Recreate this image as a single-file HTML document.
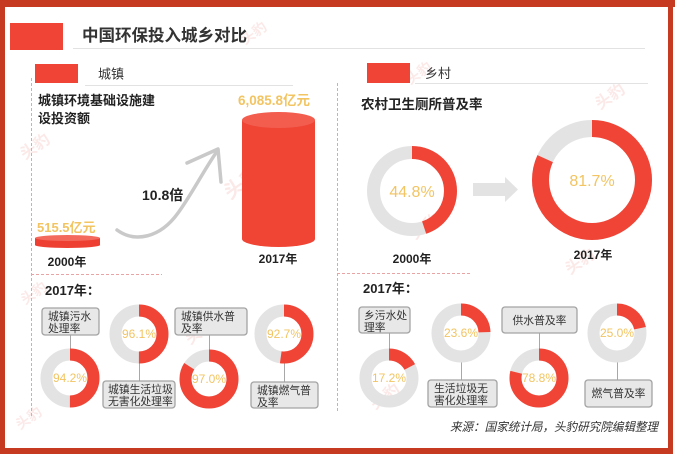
<!DOCTYPE html>
<html>
<head>
<meta charset="utf-8">
<style>
html,body{margin:0;padding:0;background:#fff;}
svg{display:block;}
text{font-family:"Liberation Sans","Noto Sans CJK SC",sans-serif;}
</style>
</head>
<body>
<svg width="675" height="456" viewBox="0 0 675 456" xmlns="http://www.w3.org/2000/svg">
  <rect x="0" y="0" width="675" height="456" fill="#ffffff"/>

  <!-- watermarks -->
  <g fill="#f4c9c6" opacity="0.4" font-weight="bold">
    <text x="230" y="200" font-size="20" transform="rotate(-35 230 200)">头豹</text>
    <text x="25" y="160" font-size="16" transform="rotate(-35 25 160)">头豹</text>
    <text x="245" y="45" font-size="14" transform="rotate(-35 245 45)">头豹</text>
    <text x="410" y="85" font-size="14" transform="rotate(-35 410 85)">头豹</text>
    <text x="600" y="110" font-size="16" transform="rotate(-35 600 110)">头豹</text>
    <text x="415" y="240" font-size="16" transform="rotate(-35 415 240)">头豹</text>
    <text x="570" y="275" font-size="16" transform="rotate(-35 570 275)">头豹</text>
    <text x="375" y="410" font-size="16" transform="rotate(-35 375 410)">头豹</text>
    <text x="25" y="305" font-size="14" transform="rotate(-35 25 305)">头豹</text>
    <text x="20" y="430" font-size="14" transform="rotate(-35 20 430)">头豹</text>
    <text x="190" y="345" font-size="16" transform="rotate(-35 190 345)">头豹</text>
  </g>

  <!-- border -->
  <rect x="0" y="0" width="675" height="7" fill="#c73a22"/>
  <rect x="0" y="0" width="5" height="454" fill="#c73a22"/>
  <rect x="668" y="0" width="5" height="454" fill="#c73a22"/>
  <rect x="0" y="448" width="673" height="6" fill="#c73a22"/>

  <!-- header -->
  <rect x="10" y="23" width="53" height="27" fill="#f04436"/>
  <text x="82" y="41" font-size="16.5" font-weight="bold" fill="#333">中国环保投入城乡对比</text>
  <line x1="73" y1="48.5" x2="645" y2="48.5" stroke="#e2e2e2" stroke-width="1"/>

  <!-- section headers -->
  <rect x="35" y="64" width="43" height="19" fill="#f04436"/>
  <text x="98" y="78.5" font-size="13" fill="#333">城镇</text>
  <line x1="85" y1="85.5" x2="293" y2="85.5" stroke="#e2e2e2" stroke-width="1"/>
  <rect x="367" y="63" width="43" height="20" fill="#f04436"/>
  <text x="425" y="78" font-size="13" fill="#333">乡村</text>
  <line x1="415" y1="83.5" x2="648" y2="83.5" stroke="#e2e2e2" stroke-width="1"/>

  <!-- dashed lines -->
  <g stroke="#e8a4a4" stroke-width="1" stroke-dasharray="3,2" fill="none">
    <line x1="31.5" y1="78" x2="31.5" y2="418"/>
    <line x1="337.5" y1="83" x2="337.5" y2="413"/>
    <line x1="31" y1="274.5" x2="162" y2="274.5"/>
    <line x1="337" y1="273.5" x2="470" y2="273.5"/>
  </g>

  <!-- Left top -->
  <text x="38" y="105" font-size="13" font-weight="bold" fill="#222">城镇环境基础设施建</text>
  <text x="38" y="123" font-size="13" font-weight="bold" fill="#222">设投资额</text>
  <text x="238" y="105" font-size="13.5" font-weight="bold" fill="#f2c462">6,085.8亿元</text>

  <!-- cylinder 2017 -->
  <rect x="242" y="120" width="73" height="119" fill="#f04535"/>
  <ellipse cx="278.5" cy="239" rx="36.5" ry="8" fill="#f04535"/>
  <ellipse cx="278.5" cy="120" rx="36.5" ry="8" fill="#f25d4e"/>
  <text x="278" y="263" font-size="12" font-weight="bold" fill="#222" text-anchor="middle">2017年</text>

  <!-- small disk 2000 -->
  <text x="37" y="232" font-size="13" font-weight="bold" fill="#f2c462">515.5亿元</text>
  <rect x="35" y="238" width="65" height="7" fill="#ee3f33"/>
  <ellipse cx="67.5" cy="245" rx="32.5" ry="3" fill="#ee3f33"/>
  <ellipse cx="67.5" cy="238" rx="32.5" ry="3" fill="#f36a5d"/>
  <text x="67" y="266" font-size="12" font-weight="bold" fill="#222" text-anchor="middle">2000年</text>

  <!-- arrow -->
  <path d="M117,230 C135,243 160,238 178,213 C192,194 205,168 218,150" fill="none" stroke="#c9c9c9" stroke-width="3.5" stroke-linecap="round"/>
  <path d="M187,163 L218,149 L221,182" fill="none" stroke="#c9c9c9" stroke-width="3.5" stroke-linecap="round" stroke-linejoin="round"/>
  <text x="142" y="200" font-size="14" font-weight="bold" fill="#222">10.8倍</text>

  <!-- Right top -->
  <text x="361" y="109" font-size="13.5" font-weight="bold" fill="#222">农村卫生厕所普及率</text>

  <!-- donut 2000 -->
  <circle cx="412" cy="191" r="38.5" fill="none" stroke="#e3e3e3" stroke-width="13"/>
  <circle cx="412" cy="191" r="38.5" fill="none" stroke="#f04436" stroke-width="13"
    stroke-dasharray="108.4 500" transform="rotate(-90 412 191)"/>
  <text x="412" y="197" font-size="16" fill="#f2c462" text-anchor="middle">44.8%</text>
  <text x="412" y="263" font-size="12" font-weight="bold" fill="#222" text-anchor="middle">2000年</text>

  <!-- gray arrow -->
  <path d="M473,183 L505,183 L505,177 L518,189.5 L505,202 L505,196 L473,196 Z" fill="#e3e3e3"/>

  <!-- donut 2017 -->
  <circle cx="592" cy="180" r="51.5" fill="none" stroke="#e3e3e3" stroke-width="17"/>
  <circle cx="592" cy="180" r="51.5" fill="none" stroke="#f04436" stroke-width="17"
    stroke-dasharray="264.4 500" transform="rotate(-90 592 180)"/>
  <text x="592" y="186" font-size="16" fill="#f2c462" text-anchor="middle">81.7%</text>
  <text x="593" y="259" font-size="12" font-weight="bold" fill="#222" text-anchor="middle">2017年</text>

  <!-- bottom -->
  <text x="45" y="295" font-size="13" font-weight="bold" fill="#222">2017年：</text>
  <text x="363" y="293" font-size="13" font-weight="bold" fill="#222">2017年：</text>

  <!-- connectors -->
  <g stroke="#a8a8a8" stroke-width="1">
    <line x1="70.5" y1="335" x2="70.5" y2="350"/>
    <line x1="139.5" y1="362" x2="139.5" y2="381"/>
    <line x1="209.5" y1="335" x2="209.5" y2="351"/>
    <line x1="284.5" y1="362" x2="284.5" y2="382"/>
    <line x1="389.5" y1="333" x2="389.5" y2="350"/>
    <line x1="461.5" y1="361" x2="461.5" y2="380"/>
    <line x1="539.5" y1="333" x2="539.5" y2="350"/>
    <line x1="617.5" y1="361" x2="617.5" y2="380"/>
  </g>

  <!-- donuts bottom -->
  <g fill="none" stroke-width="12">
    <circle cx="70" cy="378" r="23.5" stroke="#e3e3e3"/>
    <circle cx="70" cy="378" r="23.5" stroke="#f04436" stroke-dasharray="73.8 200" transform="rotate(-90 70 378)"/>
    <circle cx="139" cy="334" r="23.5" stroke="#e3e3e3"/>
    <circle cx="139" cy="334" r="23.5" stroke="#f04436" stroke-dasharray="73.8 200" transform="rotate(-90 139 334)"/>
    <circle cx="209" cy="379" r="23.5" stroke="#e3e3e3"/>
    <circle cx="209" cy="379" r="23.5" stroke="#f04436" stroke-dasharray="124 200" transform="rotate(-90 209 379)"/>
    <circle cx="284" cy="334" r="23.5" stroke="#e3e3e3"/>
    <circle cx="284" cy="334" r="23.5" stroke="#f04436" stroke-dasharray="77 200" transform="rotate(-90 284 334)"/>

    <circle cx="389" cy="378" r="23.5" stroke="#e3e3e3"/>
    <circle cx="389" cy="378" r="23.5" stroke="#f04436" stroke-dasharray="25.4 200" transform="rotate(-90 389 378)"/>
    <circle cx="461" cy="333" r="23.5" stroke="#e3e3e3"/>
    <circle cx="461" cy="333" r="23.5" stroke="#f04436" stroke-dasharray="36 200" transform="rotate(-90 461 333)"/>
    <circle cx="539" cy="378" r="23.5" stroke="#e3e3e3"/>
    <circle cx="539" cy="378" r="23.5" stroke="#f04436" stroke-dasharray="116.3 200" transform="rotate(-90 539 378)"/>
    <circle cx="617" cy="333" r="23.5" stroke="#e3e3e3"/>
    <circle cx="617" cy="333" r="23.5" stroke="#f04436" stroke-dasharray="32 200" transform="rotate(-90 617 333)"/>
  </g>

  <g font-size="12" fill="#f2c462" text-anchor="middle">
    <text x="70" y="382">94.2%</text>
    <text x="139" y="338">96.1%</text>
    <text x="209" y="383">97.0%</text>
    <text x="284" y="338">92.7%</text>
    <text x="389" y="382">17.2%</text>
    <text x="461" y="337">23.6%</text>
    <text x="539" y="382">78.8%</text>
    <text x="617" y="337">25.0%</text>
  </g>

  <!-- label boxes -->
  <g fill="#e8e8e8" stroke="#a3a3a3" stroke-width="1.3">
    <rect x="42" y="308" width="57" height="27" rx="3"/>
    <rect x="103" y="381" width="72" height="27" rx="3"/>
    <rect x="175" y="308" width="72" height="27" rx="3"/>
    <rect x="251" y="382" width="67" height="26" rx="3"/>
    <rect x="359" y="307" width="51" height="26" rx="3"/>
    <rect x="428" y="380" width="69" height="27" rx="3"/>
    <rect x="502" y="307" width="75" height="26" rx="3"/>
    <rect x="585" y="380" width="67" height="27" rx="3"/>
  </g>
  <g font-size="10.8" fill="#333">
    <text x="48" y="320">城镇污水</text>
    <text x="48" y="332">处理率</text>
    <text x="108" y="393">城镇生活垃圾</text>
    <text x="108" y="405">无害化处理率</text>
    <text x="181" y="320">城镇供水普</text>
    <text x="181" y="332">及率</text>
    <text x="257" y="394">城镇燃气普</text>
    <text x="257" y="406">及率</text>
    <text x="364" y="319">乡污水处</text>
    <text x="364" y="331">理率</text>
    <text x="434" y="392">生活垃圾无</text>
    <text x="434" y="404">害化处理率</text>
    <text x="539.5" y="324" text-anchor="middle">供水普及率</text>
    <text x="618.5" y="397" text-anchor="middle">燃气普及率</text>
  </g>

  <!-- source -->
  <text x="450" y="431" font-size="12" font-style="italic" fill="#333" textLength="208" lengthAdjust="spacingAndGlyphs">来源：国家统计局，头豹研究院编辑整理</text>
</svg>
</body>
</html>
